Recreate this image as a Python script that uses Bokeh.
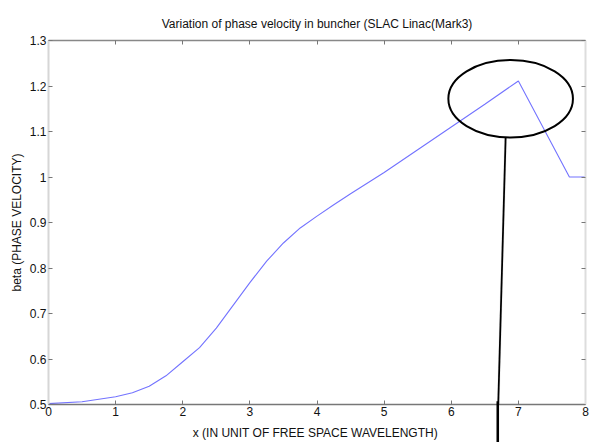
from bokeh.plotting import figure
from bokeh.models import LinearAxis, Range1d, FixedTicker, PolyAnnotation, Title, Label
from bokeh.embed import file_html
from bokeh.resources import INLINE

# Data
x_pos = [0, 0.5, 1, 1.25, 1.5, 1.75, 2, 2.25, 2.5, 2.75, 3, 3.25, 3.5, 3.75,
         4, 4.25, 4.5, 5, 5.5, 6, 6.5, 7, 7.76, 8]
beta = [0.502, 0.506, 0.517, 0.526, 0.540, 0.563, 0.594, 0.625, 0.668, 0.718,
        0.768, 0.815, 0.855, 0.888, 0.914, 0.939, 0.963, 1.01, 1.06, 1.11,
        1.16, 1.211, 1.0, 1.0]
x_ticks = [0, 1, 2, 3, 4, 5, 6, 7, 8]
y_ticks = [0.5, 0.6, 0.7, 0.8, 0.9, 1.0, 1.1, 1.2, 1.3]

# annotation (ellipse + pointer line)
ell_x, ell_y, ell_w, ell_h = 6.885, 1.172, 1.856, 0.170
ptr_x0, ptr_y0, ptr_x1, ptr_y1 = 6.81, 1.086, 6.70, 0.5
ptr_half = 0.013
ptr_tail_x, ptr_tail_y = 6.693, 0.4607

FONT = "Liberation Sans"

p = figure(width=591, height=442, output_backend="svg", toolbar_location=None,
           x_range=Range1d(0, 8), y_range=Range1d(0.5, 1.3),
           min_border_left=48, min_border_right=6, min_border_top=40,
           min_border_bottom=36, x_axis_location=None, y_axis_location=None)
p.grid.visible = False
p.outline_line_color = None
p.background_fill_color = "white"
p.border_fill_color = "white"


def style_axis(ax, color, lw, ticks, labels=True):
    ax.ticker = FixedTicker(ticks=ticks)
    ax.axis_line_color = color
    ax.axis_line_width = lw
    ax.major_tick_in = 4
    ax.major_tick_out = 0
    ax.minor_tick_line_color = None
    ax.major_tick_line_color = "#777777"
    ax.major_label_text_font = FONT
    ax.major_label_text_font_size = "12px"
    ax.major_label_text_color = "#111111"
    ax.major_label_standoff = 2
    ax.axis_label_text_font = FONT
    ax.axis_label_text_font_size = "12px"
    ax.axis_label_text_font_style = "normal"
    ax.axis_label_text_color = "#111111"
    if not labels:
        ax.major_label_text_font_size = "0px"
        ax.major_label_text_alpha = 0


xb = LinearAxis(axis_label="x  (IN UNIT OF FREE SPACE WAVELENGTH)")
style_axis(xb, "#777777", 1.5, x_ticks)
xb.axis_label_standoff = 7
p.add_layout(xb, "below")

xt = LinearAxis()
style_axis(xt, "#888888", 1.5, x_ticks, labels=False)
p.add_layout(xt, "above")

yl = LinearAxis(axis_label="beta (PHASE VELOCITY)")
style_axis(yl, "#d6d6d6", 2, y_ticks)
yl.major_label_overrides = {1.0: "1"}
yl.axis_label_standoff = 3
p.add_layout(yl, "left")

yr = LinearAxis()
style_axis(yr, "#dddddd", 2, y_ticks, labels=False)
p.add_layout(yr, "right")

p.title = Title(text="Variation of phase velocity in buncher (SLAC Linac(Mark3)",
                align="center", text_font=FONT, text_font_size="12px",
                text_font_style="normal", text_color="#111111", offset=0,
                standoff=20)

p.line(x_pos, beta, line_color="#7373ff", line_width=1.1)

p.ellipse(x=[ell_x], y=[ell_y], width=[ell_w], height=[ell_h],
          fill_color=None, line_color="black", line_width=2)

p.add_layout(PolyAnnotation(
    xs=[ptr_x0 - ptr_half, ptr_x0 + ptr_half, ptr_x1 + ptr_half, ptr_x1 - ptr_half],
    ys=[ptr_y0, ptr_y0, ptr_y1, ptr_y1],
    fill_color="black", fill_alpha=1, line_color="black", line_width=0.3))

# the part of the pointer that runs below the plot frame (side panel: not clipped)
p.add_layout(Label(x=ptr_tail_x, y=ptr_tail_y, text=" ", text_font_size="2px",
                   text_align="center", text_baseline="middle",
                   background_fill_color="black", background_fill_alpha=1,
                   padding=(1, 20)), "right")

open("out.html", "w").write(file_html(p, INLINE))
